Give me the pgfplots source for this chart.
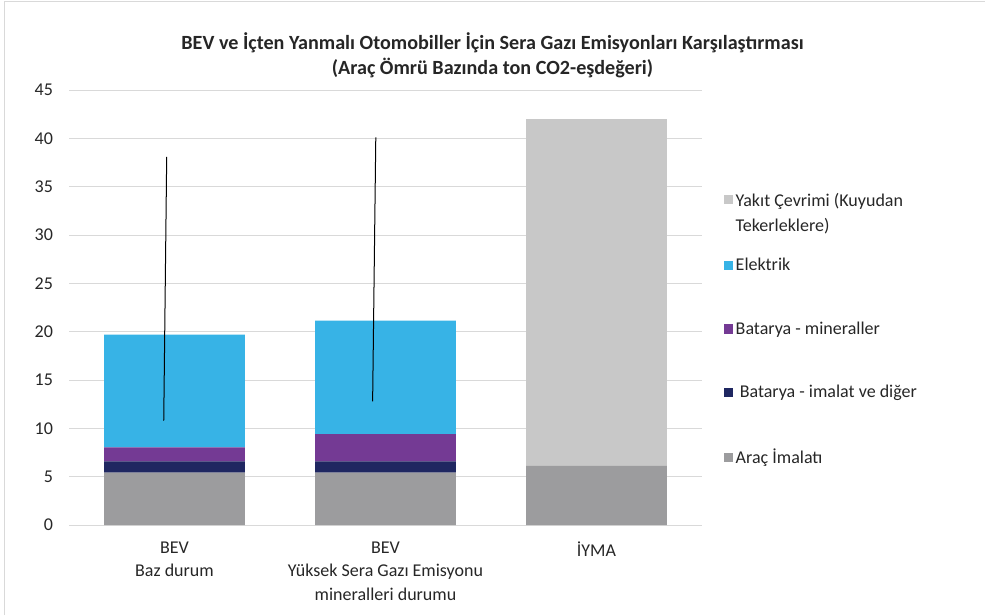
\documentclass[border=0pt]{standalone}
\usepackage{pgfplots}
\pgfplotsset{compat=1.18}
\usepackage{fontspec}
\setmainfont{Carlito}
\definecolor{cArac}{HTML}{9C9C9E}
\definecolor{cBatImal}{HTML}{1F2761}
\definecolor{cBatMin}{HTML}{743A94}
\definecolor{cElek}{HTML}{37B3E6}
\definecolor{cYakit}{HTML}{C8C8C8}
\definecolor{cGrid}{HTML}{D9D9D9}
\definecolor{cText}{HTML}{262626}
\pgfplotsset{sq/.style={legend image code/.code={\fill[##1] (0pt,-3.4pt) rectangle (6.8pt,3.4pt);}}}
\begin{document}
\begin{tikzpicture}
% chart frame
\draw[cGrid, line width=0.75pt] (3pt,0pt) -- (3pt,459.75pt) -- (738.75pt,459.75pt);
\node[font=\bfseries\fontsize{15.1}{18.75}\selectfont, align=center, text=cText] at (369.4pt,419.6pt)
 {BEV ve İçten Yanmalı Otomobiller İçin Sera Gazı Emisyonları Karşılaştırması\\(Araç Ömrü Bazında ton CO2-eşdeğeri)};
\begin{axis}[
  at={(51.75pt,67.5pt)}, anchor=south west,
  scale only axis, width=474.75pt, height=326.25pt,
  ybar stacked, bar width=0.668,
  xmin=-0.5, xmax=2.5, ymin=0, ymax=45,
  ytick={0,5,...,45}, xtick={0,1,2},
  xticklabels={BEV\\Baz durum, BEV\\Yüksek Sera Gazı Emisyonu\\mineralleri durumu, İYMA},
  ymajorgrids, grid style={draw=cGrid, line width=0.75pt},
  axis line style={draw=none}, major tick length=0pt,
  tick label style={font=\fontsize{13.5}{17.6}\selectfont, text=cText},
  /pgf/number format/assume math mode=true,
  yticklabel style={xshift=-8.5pt},
  xticklabel style={align=center, yshift=-9pt},
  reverse legend, legend cell align=left,
  legend style={at={(1.028,0.782)}, anchor=north west, draw=none, fill=none,
    row sep=32.9pt, font=\fontsize{13.5}{17.6}\selectfont, text=cText},
]
\addplot[sq, fill=cArac, draw=none] coordinates {(0,5.43) (1,5.43) (2,6.12)};
\addlegendentry{Araç İmalatı}
\addplot[sq, fill=cBatImal, draw=none] coordinates {(0,1.14) (1,1.14) (2,0)};
\addlegendentry{\ Batarya - imalat ve diğer}
\addplot[sq, fill=cBatMin, draw=none] coordinates {(0,1.45) (1,2.84) (2,0)};
\addlegendentry{Batarya - mineraller}
\addplot[sq, fill=cElek, draw=none] coordinates {(0,11.68) (1,11.72) (2,0)};
\addlegendentry{Elektrik}
\addplot[sq, fill=cYakit, draw=none] coordinates {(0,0) (1,0) (2,35.88)};
\addlegendentry{\raisebox{0pt}[\height][0pt]{\begin{tabular}[t]{@{}l@{}}Yakıt Çevrimi (Kuyudan\\[0.6pt]Tekerleklere)\end{tabular}}}
\end{axis}
\begin{axis}[
  at={(51.75pt,67.5pt)}, anchor=south west,
  scale only axis, width=474.75pt, height=326.25pt,
  xmin=-0.5, xmax=2.5, ymin=0, ymax=45, hide axis,
]
\addplot[black, line width=0.75pt] coordinates {(-0.037,38.07) (-0.051,10.79)};
\addplot[black, line width=0.75pt] coordinates {(0.954,40.1) (0.939,12.8)};
\end{axis}
\pgfresetboundingbox
\useasboundingbox (0pt,0pt) rectangle (738.75pt,461.25pt);
\end{tikzpicture}
\end{document}
